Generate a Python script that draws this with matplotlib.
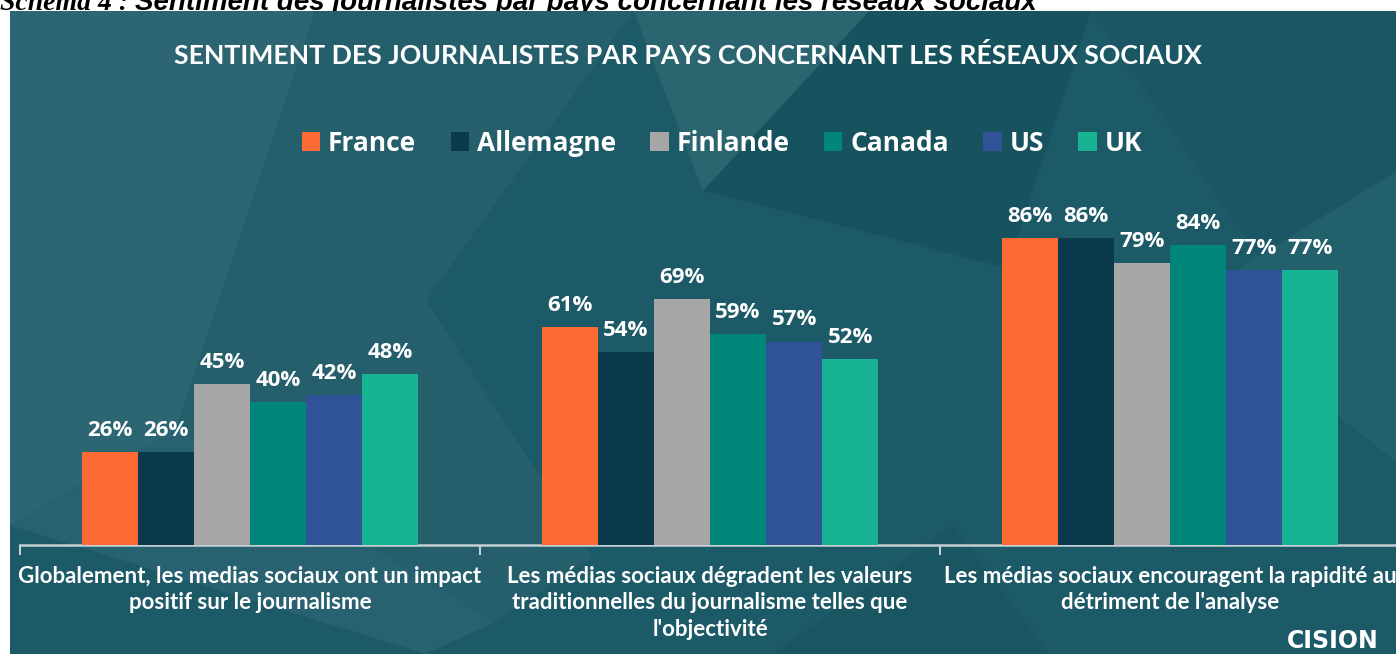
import numpy as np
import matplotlib.pyplot as plt
from matplotlib.patches import Polygon, Patch

# --- données ---
countries = ["France", "Allemagne", "Finlande", "Canada", "US", "UK"]
colors = ["#fd6a33", "#0b3a4c", "#a6a6a6", "#008679", "#2f5396", "#17b393"]
categories = [
    "Globalement, les medias sociaux ont un impact\npositif sur le journalisme",
    "Les médias sociaux dégradent les valeurs\ntraditionnelles du journalisme telles que\nl'objectivité",
    "Les médias sociaux encouragent la rapidité au\ndétriment de l'analyse",
]
france = [26, 61, 86]
allemagne = [26, 54, 86]
finlande = [45, 69, 79]
canada = [40, 59, 84]
us = [42, 57, 77]
uk = [48, 52, 77]
series = [france, allemagne, finlande, canada, us, uk]

title = "SENTIMENT DES JOURNALISTES PAR PAYS CONCERNANT LES RÉSEAUX SOCIAUX"
caption_a = "Schéma 4 :"
caption_b = "Sentiment des journalistes par pays concernant les réseaux sociaux"

W, H = 1396, 654
fig = plt.figure(figsize=(W / 100, H / 100), dpi=100, facecolor="white")

# fond du panneau (motif géométrique approximatif)
bg = fig.add_axes([10 / W, 0, 1 - 10 / W, (H - 11) / H])
bg.set_xlim(0, 1); bg.set_ylim(0, 1); bg.axis("off")
bg.add_patch(Polygon([[0, 0], [1, 0], [1, 1], [0, 1]], closed=True, color="#1d5a67", zorder=0))
shapes = [
    ([[0, 1], [0.22, 1], [0.12, 0.35], [0, 0.2]], "#2b6672"),
    ([[0, 0.2], [0.12, 0.35], [0.35, 0.05], [0.3, 0]], "#286270"),
    ([[0.22, 1], [0.45, 1], [0.3, 0.55], [0.12, 0.35]], "#245f6b"),
    ([[0.45, 1], [0.62, 1], [0.5, 0.72]], "#2a6570"),
    ([[0.12, 0.35], [0.3, 0.55], [0.42, 0.15], [0.35, 0.05]], "#255f6c"),
    ([[0.5, 0.72], [0.62, 1], [0.78, 1], [0.72, 0.6]], "#17525f"),
    ([[0.78, 1], [1, 1], [1, 0.75], [0.9, 0.62]], "#1a5663"),
    ([[0.55, 0.0], [0.75, 0.0], [0.68, 0.2]], "#1a5562"),
    ([[0.85, 0.55], [1, 0.75], [1, 0.3]], "#22606c"),
]
for pts, c in shapes:
    bg.add_patch(Polygon(pts, closed=True, color=c, lw=0, zorder=1))

ax = fig.add_axes([20 / W, 109 / H, 1380 / W, 357 / H])
ax.patch.set_alpha(0)
x = np.arange(len(categories))
width = 0.122
offsets = (np.arange(len(countries)) - (len(countries) - 1) / 2) * width

for vals, name, col, off in zip(series, countries, colors, offsets):
    bars = ax.bar(x + off, vals, width, color=col, label=name, zorder=3)
    for b, v in zip(bars, vals):
        ax.annotate(f"{v}%", (b.get_x() + b.get_width() / 2, v), xytext=(0, 8),
                    textcoords="offset points", ha="center", va="bottom",
                    color="white", fontsize=16, fontweight="bold", family="Open Sans")

ax.set_xlim(-0.5, 2.5)
ax.set_ylim(0, 100)
for s in ["top", "right", "left"]:
    ax.spines[s].set_visible(False)
ax.spines["bottom"].set_color("#c6d0d4")
ax.spines["bottom"].set_linewidth(1.8)
ax.set_yticks([])
ax.set_xticks([-0.5, 0.5, 1.5])
ax.set_xticklabels([])
ax.tick_params(axis="x", which="major", length=7, width=1.5, color="#c6d0d4")
ax.set_xticks(x, minor=True)
ax.set_xticklabels(categories, minor=True, color="white", fontsize=16,
                   fontweight="bold", family="Lato", linespacing=1.32)
ax.tick_params(axis="x", which="minor", length=0, pad=15)

handles = [Patch(facecolor=c, label=n) for n, c in zip(countries, colors)]
leg = fig.legend(handles=handles, loc="center", bbox_to_anchor=(722 / W, 1 - 143 / H),
                 ncol=6, frameon=False, handlelength=0.7, handleheight=0.7,
                 handletextpad=0.3, columnspacing=1.3,
                 prop={"family": "Open Sans", "weight": "bold", "size": 19})
for t in leg.get_texts():
    t.set_color("white")

fig.text(688 / W, 1 - 55 / H, title, ha="center", va="center", color="white",
         fontsize=19.2, fontweight="bold", family="Lato")

# légende du schéma, coupée en haut comme dans l'original
fig.text(0.0, 1 - 10 / H, caption_a, ha="left", va="baseline", color="black", zorder=-1,
         fontsize=20, fontweight="bold", style="italic", family="Liberation Serif")
fig.text(135 / W, 1 - 10 / H, caption_b, ha="left", va="baseline", color="black", zorder=-1,
         fontsize=20, fontweight="bold", style="italic", family="Liberation Sans")

fig.text(1333 / W, 1 - 641 / H, "CISION", ha="center", va="center", color="white",
         fontsize=17, fontweight="bold", family="Liberation Sans Narrow")

fig.savefig("out.png", dpi=100, facecolor="white")
